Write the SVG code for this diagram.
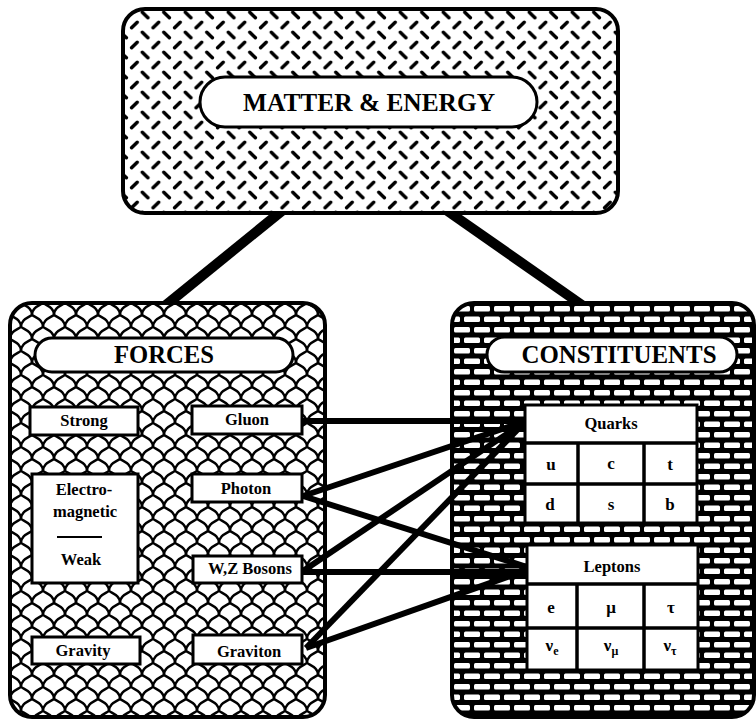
<svg xmlns="http://www.w3.org/2000/svg" width="756" height="721" viewBox="0 0 756 721">
<defs>
<pattern id="plate" width="21.5" height="20" patternUnits="userSpaceOnUse" x="0" y="0">
<rect width="21.5" height="20" fill="#fff"/>
<g stroke="#000" stroke-width="3.4" stroke-linecap="round">
<line x1="2.6" y1="7.8" x2="8.2" y2="2.2"/>
<line x1="13.3" y1="12.2" x2="18.9" y2="17.8"/>
</g>
</pattern>
<pattern id="scales" width="22" height="24" patternUnits="userSpaceOnUse" x="10" y="303">
<rect width="22" height="24" fill="#000"/>
<g fill="#fff" stroke="none">
<path d="M-11,0 C-11,-7 -5,-9 0,-12 C5,-9 11,-7 11,0 L11,14 L-11,14 Z"/>
<path d="M11,0 C11,-7 17,-9 22,-12 C27,-9 33,-7 33,0 L33,14 L11,14 Z"/>
</g>
<g fill="#fff" stroke="#000" stroke-width="2.4">
<path d="M0,12 C0,5 6,3 11,0 C16,3 22,5 22,12 L22,26 L0,26 Z"/>
<path d="M-11,24 C-11,17 -5,15 0,12 C5,15 11,17 11,24 L11,38 L-11,38 Z"/>
<path d="M11,24 C11,17 17,15 22,12 C27,15 33,17 33,24 L33,38 L11,38 Z"/>
<path d="M0,36 C0,29 6,27 11,24 C16,27 22,29 22,36 L22,50 L0,50 Z"/>
</g>
</pattern>
<pattern id="bricks" width="20" height="21" patternUnits="userSpaceOnUse" x="452" y="303">
<rect width="20" height="21" fill="#000"/>
<g fill="#fff">
<rect x="2" y="3" width="16" height="5.5" rx="1.5"/>
<rect x="-8" y="13.5" width="16" height="5.5" rx="1.5"/>
<rect x="12" y="13.5" width="16" height="5.5" rx="1.5"/>
</g>
</pattern>
</defs>
<style>
.outer{stroke:#000;stroke-width:4}
.box{fill:#fff;stroke:#000;stroke-width:3}
.pill{fill:#fff;stroke:#000;stroke-width:3}
text{font-family:"Liberation Serif","Times New Roman",serif;font-weight:bold;fill:#000;text-anchor:middle}
.big{font-size:26px}
.lbl{font-size:16.5px}
.cell{font-size:17px}
.conn line{stroke:#000;stroke-width:6;stroke-linecap:butt}
.trunk line{stroke:#000;stroke-width:10}
.grid{stroke:#000;stroke-width:3.5;fill:none}
</style>

<g id="trunks" class="trunk">
<line x1="283" y1="210" x2="166" y2="305"/>
<line x1="446" y1="210" x2="582" y2="305"/>
</g>

<g id="matter-energy">
<rect class="outer" x="123" y="9" width="495" height="204" rx="22" fill="url(#plate)"/>
<rect class="pill" x="200" y="77" width="337" height="50" rx="25"/>
<text class="big" x="369" y="111" font-size="27" textLength="252" lengthAdjust="spacingAndGlyphs">MATTER &amp; ENERGY</text>
</g>

<g id="forces">
<rect class="outer" x="10" y="303" width="315" height="414" rx="22" fill="url(#scales)"/>
<rect class="pill" x="35" y="338" width="258" height="34" rx="17"/>
<text class="big" x="164" y="363" textLength="100" lengthAdjust="spacingAndGlyphs">FORCES</text>
</g>

<g id="constituents">
<rect class="outer" x="452" y="303" width="302" height="414" rx="22" fill="url(#bricks)"/>
<rect class="pill" x="487" y="337" width="250" height="35" rx="17.5"/>
<text class="big" x="619" y="363" textLength="195" lengthAdjust="spacingAndGlyphs">CONSTITUENTS</text>
</g>

<g id="strong">
<rect class="box" x="30" y="407" width="108" height="28"/>
<text class="lbl" x="84" y="426">Strong</text>
</g>
<g id="gluon">
<rect class="box" x="192" y="406" width="110" height="28"/>
<text class="lbl" x="247" y="425">Gluon</text>
</g>
<g id="electroweak">
<rect class="box" x="32" y="474" width="106" height="109"/>
<text class="lbl" x="84" y="495">Electro-</text>
<text class="lbl" x="85" y="517">magnetic</text>
<line x1="57" y1="537" x2="102" y2="537" stroke="#000" stroke-width="2"/>
<text class="lbl" x="81" y="565">Weak</text>
</g>
<g id="photon">
<rect class="box" x="192" y="474" width="110" height="28"/>
<text class="lbl" x="246" y="494">Photon</text>
</g>
<g id="wz-bosons">
<rect class="box" x="193" y="556" width="109" height="27"/>
<text class="lbl" x="250" y="574">W,Z Bosons</text>
</g>
<g id="gravity">
<rect class="box" x="32" y="637" width="108" height="27"/>
<text class="lbl" x="83" y="656">Gravity</text>
</g>
<g id="graviton">
<rect class="box" x="193" y="635" width="109" height="29"/>
<text class="lbl" x="249" y="657">Graviton</text>
</g>

<g id="connectors" class="conn">
<line x1="302" y1="421" x2="523" y2="421"/>
<line x1="303" y1="496" x2="523" y2="422"/>
<line x1="303" y1="496" x2="527" y2="567"/>
<line x1="303" y1="571" x2="523" y2="423"/>
<line x1="303" y1="572" x2="527" y2="572"/>
<line x1="306" y1="648" x2="523" y2="424"/>
<line x1="306" y1="648" x2="527" y2="570"/>
</g>

<g id="quarks">
<rect class="box" x="525" y="405" width="172" height="118"/>
<line class="grid" x1="525" y1="443" x2="697" y2="443"/>
<line class="grid" x1="525" y1="484" x2="697" y2="484"/>
<line class="grid" x1="578" y1="443" x2="578" y2="523"/>
<line class="grid" x1="644" y1="443" x2="644" y2="523"/>
<text class="lbl" x="611" y="429">Quarks</text>
<text class="cell" x="551" y="470">u</text>
<text class="cell" x="611" y="469">c</text>
<text class="cell" x="670" y="470">t</text>
<text class="cell" x="550" y="510">d</text>
<text class="cell" x="611" y="510">s</text>
<text class="cell" x="670" y="510">b</text>
</g>

<g id="leptons">
<rect class="box" x="527" y="545" width="171" height="125"/>
<line class="grid" x1="527" y1="584" x2="698" y2="584"/>
<line class="grid" x1="527" y1="628" x2="698" y2="628"/>
<line class="grid" x1="577" y1="584" x2="577" y2="670"/>
<line class="grid" x1="644" y1="584" x2="644" y2="670"/>
<text class="lbl" x="612" y="572">Leptons</text>
<text class="cell" x="551" y="613">e</text>
<text class="cell" x="611" y="613">μ</text>
<text class="cell" x="671" y="613">τ</text>
<text class="cell" x="552" y="651">ν<tspan font-size="12" dy="4">e</tspan></text>
<text class="cell" x="611" y="651">ν<tspan font-size="12" dy="4">μ</tspan></text>
<text class="cell" x="670" y="651">ν<tspan font-size="12" dy="4">τ</tspan></text>
</g>
</svg>
